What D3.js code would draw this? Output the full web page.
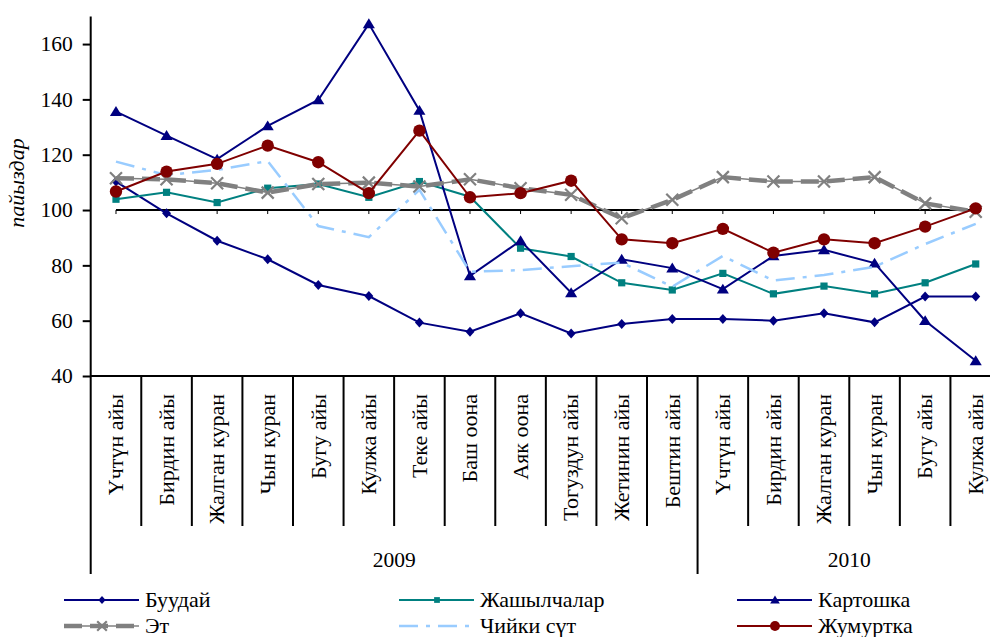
<!DOCTYPE html>
<html><head><meta charset="utf-8">
<script src="https://cdn.jsdelivr.net/npm/d3@7"></script>
<style>
body{margin:0;background:#fff}
svg{display:block}
</style>
</head><body>
<svg id="c" width="990" height="637"></svg>
<script>
// ---- data ----
const categories = ["Үчтүн айы","Бирдин айы","Жалган куран","Чын куран","Бугу айы","Кулжа айы","Теке айы","Баш оона","Аяк оона","Тогуздун айы","Жетинин айы","Бештин айы","Үчтүн айы","Бирдин айы","Жалган куран","Чын куран","Бугу айы","Кулжа айы"];
const years = ["2009","2010"];
const yearSpans = [12,6];
const yTicks = [40,60,80,100,120,140,160];
const yLabel = "пайыздар";
const seriesNames = ["Буудай","Жашылчалар","Картошка","Эт","Чийки сүт","Жумуртка"];
const buudai     = [110.3,98.8,88.9,82.2,72.9,68.9,59.3,56.0,62.7,55.4,58.8,60.6,60.6,60.0,62.7,59.4,68.7,68.7];
const jashylchalar = [103.9,106.4,102.7,107.9,109.4,104.6,110.3,104.8,86.2,83.2,73.7,71.1,77.1,69.7,72.5,69.7,73.7,80.5];
const kartoshka  = [135.6,126.9,118.4,130.4,139.8,167.3,136.0,76.2,88.9,70.1,82.2,79.0,71.4,83.4,85.6,80.8,60.0,45.5];
const et         = [111.5,111.1,109.7,106.3,109.4,109.9,108.5,111.1,107.9,105.5,97.0,103.7,111.9,110.3,110.3,111.9,102.4,99.4];
const chiykiSut  = [117.5,112.6,114.5,117.7,94.2,90.2,107.3,77.7,78.3,79.7,81.0,72.3,83.4,74.5,76.5,79.5,87.7,95.0];
const jumurtka   = [106.7,113.9,116.7,123.3,117.3,106.1,128.7,104.6,106.1,110.6,89.4,88.0,93.2,84.6,89.4,88.0,94.0,100.6];
const baseLine   = 100;

// ---- styles ----
const FONT = '"Liberation Serif"';
const styles = [
  {color:"#000080", width:2, dash:null, marker:"diamond"},
  {color:"#008080", width:2, dash:null, marker:"square"},
  {color:"#000080", width:2, dash:null, marker:"triangle"},
  {color:"#808080", width:4.5, dash:"18,8", marker:"x", thin:true},
  {color:"#99CCFF", width:2.5, dash:"19,8,4,8", marker:null},
  {color:"#800000", width:2, dash:null, marker:"circle"}
];
const seriesValues = [buudai, jashylchalar, kartoshka, et, chiykiSut, jumurtka];

const svg = d3.select("#c");
const pLeft = 90.7, pRight = 1001, pTop = 16.4, pBottom = 376;

const x = d3.scaleBand().domain(d3.range(categories.length)).range([pLeft, pRight]).padding(0);
const cx = i => x(i) + x.bandwidth()/2;
const y = d3.scaleLinear().domain([40,170]).range([pBottom, pTop]);

// y axis
const yAxis = d3.axisLeft(y).tickValues(yTicks).tickSize(8).tickPadding(10).tickFormat(d3.format("d"));
const ga = svg.append("g").attr("transform",`translate(${pLeft},0)`).call(yAxis);
ga.attr("font-family",null).attr("font-size",null);
ga.select(".domain").remove();
ga.selectAll(".tick line").attr("stroke","#000").attr("stroke-width",2);
ga.selectAll(".tick text").style("font-family",FONT).style("font-size","21.5px").attr("fill","#000");
svg.append("line").attr("x1",pLeft).attr("x2",pLeft).attr("y1",pTop).attr("y2",574).attr("stroke","#000").attr("stroke-width",2);

// x axis line
svg.append("line").attr("x1",pLeft).attr("x2",pRight).attr("y1",pBottom).attr("y2",pBottom).attr("stroke","#000").attr("stroke-width",2);

// category separators
let yearStart = 0;
const yearBounds = [];
yearSpans.forEach(s => { yearBounds.push([yearStart, yearStart+s]); yearStart += s; });
const yearStartIdx = new Set(yearBounds.map(b=>b[0]));
for (let i = 1; i <= categories.length; i++) {
  const xx = i < categories.length ? x(i) : pRight;
  const long = yearStartIdx.has(i) || i === categories.length;
  svg.append("line").attr("x1",xx).attr("x2",xx).attr("y1",pBottom).attr("y2", long ? 574 : 526)
    .attr("stroke","#000").attr("stroke-width",2);
}
// category labels
svg.append("g").selectAll("text").data(categories).join("text")
  .attr("transform",(d,i)=>`translate(${cx(i)},394) rotate(-90)`)
  .attr("text-anchor","end").attr("dy","0.33em").style("font-size","22px").style("font-family",FONT).attr("fill","#000").text(d=>d);
// years
svg.append("g").selectAll("text").data(years).join("text")
  .attr("x",(d,i)=>{const b=yearBounds[i]; const a=x(b[0]); const e=b[1]<categories.length?x(b[1]):pRight; return (a+e)/2;})
  .attr("y",567).attr("text-anchor","middle").style("font-size","21.5px").style("font-family",FONT).attr("fill","#000").text(d=>d);

// y label
svg.append("text").attr("transform","translate(24,183) rotate(-90)").attr("text-anchor","middle")
  .style("font-size","22px").style("font-style","italic").style("font-family",FONT).attr("fill","#000").text(yLabel);

// 100 line
svg.append("line").attr("x1",cx(0)).attr("x2",cx(categories.length-1)).attr("y1",y(baseLine)).attr("y2",y(baseLine))
  .attr("stroke","#000").attr("stroke-width",2);
svg.append("g").selectAll("line").data(categories).join("line")
  .attr("x1",(d,i)=>cx(i)).attr("x2",(d,i)=>cx(i)).attr("y1",y(baseLine)).attr("y2",y(baseLine)+4)
  .attr("stroke","#000").attr("stroke-width",1);

function markerPath(type, s){
  switch(type){
    case "diamond": return `M0,${-s}L${s*0.9},0L0,${s}L${-s*0.9},0Z`;
    case "square": return `M${-s},${-s}H${s}V${s}H${-s}Z`;
    case "triangle": return `M0,${-s}L${s*1.1},${s*0.8}L${-s*1.1},${s*0.8}Z`;
    case "x": return `M${-s},${-s}L${s},${s}M${-s},${s}L${s},${-s}`;
  }
}
function drawMarker(g, type, color, px, py, scale){
  if(!type) return;
  if(type==="circle"){
    g.append("circle").attr("cx",px).attr("cy",py).attr("r",6.2*scale).attr("fill",color);
  } else if(type==="x"){
    g.append("path").attr("d",markerPath("x",6*scale)).attr("transform",`translate(${px},${py})`)
      .attr("stroke",color).attr("stroke-width",2.2).attr("fill","none");
  } else {
    const s = {diamond:5, square:3.6, triangle:5.5}[type]*scale;
    g.append("path").attr("d",markerPath(type,s)).attr("transform",`translate(${px},${py})`).attr("fill",color);
  }
}

const line = d3.line().x((d,i)=>cx(i)).y(d=>y(d));
seriesValues.forEach((vals, k) => {
  const st = styles[k];
  const g = svg.append("g");
  if (st.thin) g.append("path").attr("d",line(vals)).attr("fill","none").attr("stroke",st.color).attr("stroke-width",1.5);
  g.append("path").attr("d",line(vals)).attr("fill","none").attr("stroke",st.color)
    .attr("stroke-width",st.width).attr("stroke-dasharray",st.dash);
  vals.forEach((v,i)=>drawMarker(g, st.marker, st.color, cx(i), y(v), 1));
});

// legend
const legX = [64, 399, 737], legY = [600, 626];
seriesNames.forEach((name,k)=>{
  const st = styles[k];
  const col = k%3, row = Math.floor(k/3);
  const lx = legX[col], ly = legY[row];
  const g = svg.append("g");
  if (st.thin) g.append("line").attr("x1",lx).attr("x2",lx+75).attr("y1",ly).attr("y2",ly).attr("stroke",st.color).attr("stroke-width",1.5);
  g.append("line").attr("x1",lx).attr("x2",lx+75).attr("y1",ly).attr("y2",ly)
    .attr("stroke",st.color).attr("stroke-width",st.width).attr("stroke-dasharray",st.dash);
  drawMarker(g, st.marker, st.color, lx+38, ly, 0.8);
  g.append("text").attr("x",lx+81).attr("y",ly).attr("dy","0.33em").style("font-size","22px").style("font-family",FONT).attr("fill","#000").text(name);
});
</script>
</body></html>
